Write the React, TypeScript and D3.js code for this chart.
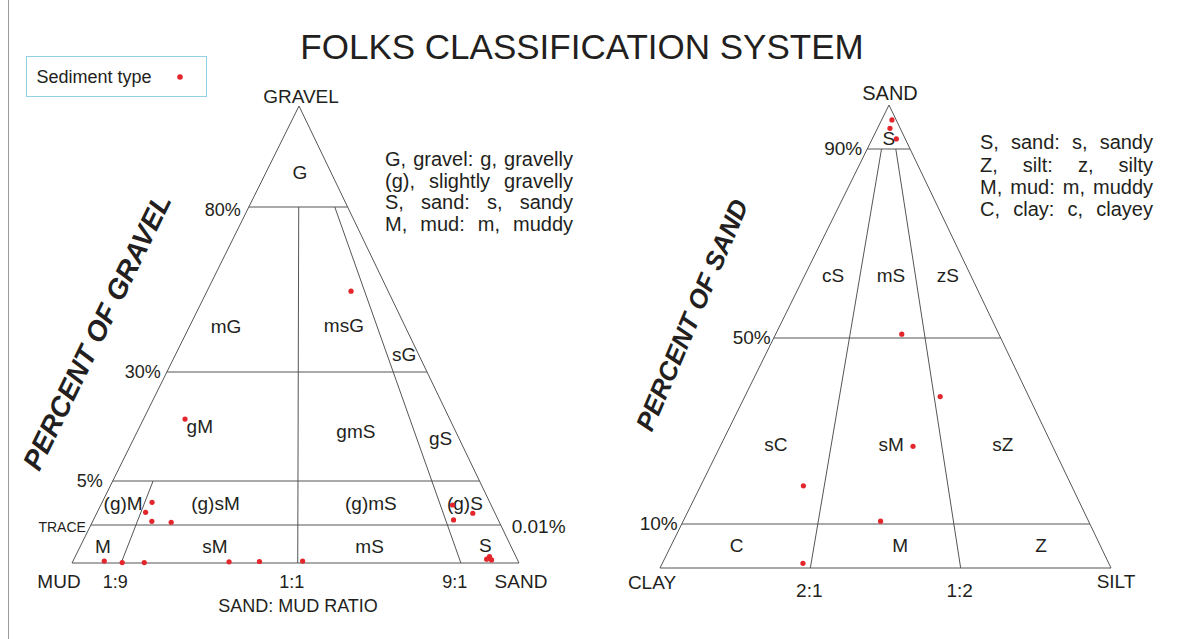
import React, { useEffect, useRef } from 'react';
import * as d3 from 'd3';

const W = 1179;
const H = 639;
const FONT = '"Liberation Sans", Arial, Helvetica, sans-serif';
const INK = '#231f20';
const LINE = '#555555';
const DOT = '#e3262b';

// ---- Gravel / sand / mud triangle (left) ----
const gravelLevels = [100, 80, 30, 5, 0.01, 0];
const gravelTicks = [80, 30, 5];
const gravelTickLabels = ['80%', '30%', '5%'];
const traceLevel = 0.01;
const sandMudRatios = [0.1, 0.5, 0.9];
const sandMudRatioLabels = ['1:9', '1:1', '9:1'];

const gsmClasses = ['G', 'mG', 'msG', 'sG', 'gM', 'gmS', 'gS', '(g)M', '(g)sM', '(g)mS', '(g)S', 'M', 'sM', 'mS', 'S'];
const gsmClassGravel = [86.9, 43.9, 44.3, 35.5, 17.6, 16.4, 14.9, 2.5, 2.5, 2.5, 2.5, 0.0046, 0.0046, 0.0046, 0.0047];
const gsmClassSand = [0.52, 0.16, 0.733, 0.955, 0.182, 0.699, 0.957, 0.05, 0.285, 0.706, 0.95, 0.047, 0.305, 0.683, 0.955];

// Samples: gravel % and sand share of the sand+mud fraction
const sampleGravel = [54.5, 19.2, 2.58, 1.45, 0.43, 0.32, 0.0005, 0.0001, 0.0001, 0.0003, 0.0004, 0.0005, 2.28, 0.58, 1.34, 0.001, 0.0017, 0.0008];
const sampleSandShare = [0.818, 0.126, 0.119, 0.112, 0.136, 0.185, 0.064, 0.102, 0.152, 0.344, 0.413, 0.512, 0.924, 0.915, 0.957, 0.947, 0.954, 0.955];

const gsmKey = ['G, gravel: g, gravelly', '(g), slightly gravelly', 'S, sand: s, sandy', 'M, mud: m, muddy'];

// ---- Sand / silt / clay triangle (right) ----
const sandLevels = [100, 90, 50, 10, 0];
const sandTicks = [90, 50, 10];
const sandTickLabels = ['90%', '50%', '10%'];
const siltClayRatios = [1 / 3, 2 / 3];
const siltClayRatioLabels = ['2:1', '1:2'];

const sscClasses = ['S', 'cS', 'mS', 'zS', 'sC', 'sM', 'sZ', 'C', 'M', 'Z'];
const sscClassSand = [92.5, 63.4, 63.4, 63.4, 27.1, 27.1, 27.1, 5.3, 5.3, 5.3];
const sscClassSilt = [0.5, 0.169, 0.52, 0.864, 0.166, 0.514, 0.852, 0.152, 0.534, 0.863];

// Samples: sand % and silt share of the silt+clay fraction
const sampleSand = [96.6, 94.7, 92.3, 50.8, 37.4, 26.7, 18.2, 10.6, 1.07];
const sampleSiltShare = [0.71, 0.55, 0.73, 0.565, 0.688, 0.58, 0.277, 0.487, 0.315];

const sscKey = ['S, sand: s, sandy', 'Z, silt: z, silty', 'M, mud: m, muddy', 'C, clay: c, clayey'];

export default function App() {
  const ref = useRef<SVGSVGElement>(null);

  useEffect(() => {
    const svg = d3.select(ref.current);
    svg.selectAll('*').remove();

    const root = svg.append('g').attr('font-family', FONT).attr('fill', INK);

    // page frame line
    root.append('line').attr('x1', 8.5).attr('x2', 8.5).attr('y1', 0).attr('y2', H)
      .attr('stroke', '#9a9a9a').attr('stroke-width', 1);

    // title
    root.append('text').attr('x', 582).attr('y', 59).attr('text-anchor', 'middle')
      .attr('font-size', 35).text('FOLKS CLASSIFICATION SYSTEM');

    // legend box
    const lg = root.append('g');
    lg.append('rect').attr('x', 26.5).attr('y', 56.5).attr('width', 180).attr('height', 40)
      .attr('fill', 'none').attr('stroke', '#92d0e6').attr('stroke-width', 1);
    lg.append('text').attr('x', 36.5).attr('y', 83).attr('font-size', 18).text('Sediment type');
    lg.append('circle').attr('cx', 180).attr('cy', 77).attr('r', 2.8).attr('fill', DOT);

    const seg = (g: any, a: number[], b: number[]) =>
      g.append('line').attr('x1', a[0]).attr('y1', a[1]).attr('x2', b[0]).attr('y2', b[1])
        .attr('stroke', LINE).attr('stroke-width', 1);

    // each key line is spread to fill the same width, word by word
    const justify = (g: any, lines: string[], x0: number, x1: number, baselines: number[], size: number) => {
      lines.forEach((line, i) => {
        const words = line.split(' ');
        const nodes = words.map((w) => g.append('text').attr('font-size', size).attr('y', baselines[i]).text(w));
        const widths = nodes.map((n: any) => (n.node() as SVGTextElement).getComputedTextLength());
        const total = d3.sum(widths);
        const gap = words.length > 1 ? (x1 - x0 - total) / (words.length - 1) : 0;
        let x = x0;
        nodes.forEach((n: any, k: number) => {
          n.attr('x', x);
          x += widths[k] + gap;
        });
      });
    };

    // ================= LEFT: gravel-sand-mud =================
    const gravelY = d3.scaleLinear().domain(gravelLevels).range([106, 207, 372, 481, 525, 563]);
    const sandPos = d3.scaleLinear().domain([0, 0.1, 0.5, 0.9, 1]).range([0, 0.11, 0.505, 0.87, 1]);
    const lEdgeL = d3.scaleLinear().domain([106, 563]).range([299, 72]);
    const lEdgeR = d3.scaleLinear().domain([106, 563]).range([299, 519]);
    const projL = (g: number, s: number) => {
      const y = gravelY(g);
      const xl = lEdgeL(y);
      const xr = lEdgeR(y);
      return [xl + sandPos(s) * (xr - xl), y];
    };

    const L = root.append('g');
    const lApex = projL(100, 0.5);
    const lMud = projL(0, 0);
    const lSand = projL(0, 1);
    L.append('path').attr('d', d3.line()([lApex, lMud, lSand] as any) + 'Z')
      .attr('fill', 'none').attr('stroke', LINE).attr('stroke-width', 1);

    [...gravelTicks, traceLevel].forEach((g) => seg(L, projL(g, 0), projL(g, 1)));
    seg(L, projL(5, 0.1), projL(0, 0.1));
    seg(L, projL(80, 0.5), projL(0, 0.5));
    seg(L, projL(80, 0.9), projL(0, 0.9));

    // gravel percent labels
    const gravelLabelOffset = [8, 6, 10];
    gravelTicks.forEach((g, i) => {
      const p = projL(g, 0);
      L.append('text').attr('x', p[0] - gravelLabelOffset[i]).attr('y', p[1] + (i === 0 ? 9 : 6))
        .attr('text-anchor', 'end').attr('font-size', 18).text(gravelTickLabels[i]);
    });
    const tr0 = projL(traceLevel, 0);
    L.append('text').attr('x', tr0[0] - 5).attr('y', tr0[1] + 7).attr('text-anchor', 'end')
      .attr('font-size', 14).text('TRACE');
    const tr1 = projL(traceLevel, 1);
    L.append('text').attr('x', tr1[0] + 11).attr('y', tr1[1] + 8).attr('font-size', 19).text('0.01%');

    // ratio labels along the base
    sandMudRatios.forEach((s, i) => {
      const p = projL(0, s);
      L.append('text').attr('x', p[0] - 6).attr('y', 588).attr('text-anchor', 'middle')
        .attr('font-size', 18).text(sandMudRatioLabels[i]);
    });
    L.append('text').attr('x', lMud[0] - 13).attr('y', 588).attr('text-anchor', 'middle').attr('font-size', 19).text('MUD');
    L.append('text').attr('x', lSand[0] + 2).attr('y', 588).attr('text-anchor', 'middle').attr('font-size', 19).text('SAND');
    L.append('text').attr('x', lApex[0] + 2).attr('y', lApex[1] - 3.5).attr('text-anchor', 'middle').attr('font-size', 19).text('GRAVEL');
    L.append('text').attr('x', 298).attr('y', 612).attr('text-anchor', 'middle').attr('font-size', 18).text('SAND: MUD RATIO');

    gsmClasses.forEach((c, i) => {
      const p = projL(gsmClassGravel[i], gsmClassSand[i]);
      L.append('text').attr('x', p[0]).attr('y', p[1] + 7).attr('text-anchor', 'middle')
        .attr('font-size', 19).text(c);
    });

    L.append('text').attr('transform', 'translate(97,332) rotate(-64)').attr('text-anchor', 'middle')
      .attr('dominant-baseline', 'central')
      .attr('font-size', 28).attr('font-weight', 'bold').attr('font-style', 'italic').text('PERCENT OF GRAVEL');

    justify(L, gsmKey, 385, 573, [166, 187.5, 209, 230.7], 20);

    sampleGravel.forEach((g, i) => {
      const p = projL(g, sampleSandShare[i]);
      L.append('circle').attr('cx', p[0]).attr('cy', p[1]).attr('r', 2.6).attr('fill', DOT);
    });

    // ================= RIGHT: sand-silt-clay =================
    const sandY = d3.scaleLinear().domain(sandLevels).range([105, 149, 338, 524, 568]);
    const rEdgeL = d3.scaleLinear().domain([105, 568]).range([889, 660]);
    const rEdgeR = d3.scaleLinear().domain([105, 568]).range([889, 1111]);
    const projR = (sand: number, silt: number) => {
      const y = sandY(sand);
      const xl = rEdgeL(y);
      const xr = rEdgeR(y);
      return [xl + silt * (xr - xl), y];
    };

    const R = root.append('g');
    const rApex = projR(100, 0.5);
    const rClay = projR(0, 0);
    const rSilt = projR(0, 1);
    R.append('path').attr('d', d3.line()([rApex, rClay, rSilt] as any) + 'Z')
      .attr('fill', 'none').attr('stroke', LINE).attr('stroke-width', 1);
    sandTicks.forEach((s) => seg(R, projR(s, 0), projR(s, 1)));
    siltClayRatios.forEach((r) => seg(R, projR(90, r), projR(0, r)));

    const sandLabelOffset = [5, 3, 4];
    sandTicks.forEach((s, i) => {
      const p = projR(s, 0);
      R.append('text').attr('x', p[0] - sandLabelOffset[i]).attr('y', p[1] + 6)
        .attr('text-anchor', 'end').attr('font-size', 19).text(sandTickLabels[i]);
    });
    siltClayRatios.forEach((r, i) => {
      const p = projR(0, r);
      R.append('text').attr('x', p[0] - 1).attr('y', 597).attr('text-anchor', 'middle')
        .attr('font-size', 19).text(siltClayRatioLabels[i]);
    });
    R.append('text').attr('x', rClay[0] - 8).attr('y', 589).attr('text-anchor', 'middle').attr('font-size', 19).text('CLAY');
    R.append('text').attr('x', rSilt[0] + 5).attr('y', 588).attr('text-anchor', 'middle').attr('font-size', 19).text('SILT');
    R.append('text').attr('x', rApex[0] + 1).attr('y', rApex[1] - 5).attr('text-anchor', 'middle').attr('font-size', 20).text('SAND');

    sscClasses.forEach((c, i) => {
      const p = projR(sscClassSand[i], sscClassSilt[i]);
      R.append('text').attr('x', p[0]).attr('y', p[1] + 7).attr('text-anchor', 'middle')
        .attr('font-size', 19).text(c);
    });

    R.append('text').attr('transform', 'translate(692,315) rotate(-67)').attr('text-anchor', 'middle')
      .attr('dominant-baseline', 'central')
      .attr('font-size', 26).attr('font-weight', 'bold').attr('font-style', 'italic').text('PERCENT OF SAND');

    justify(R, sscKey, 980, 1153, [149, 171.5, 194, 216], 20);

    sampleSand.forEach((s, i) => {
      const p = projR(s, sampleSiltShare[i]);
      R.append('circle').attr('cx', p[0]).attr('cy', p[1]).attr('r', 2.6).attr('fill', DOT);
    });
  }, []);

  return (
    <svg
      ref={ref}
      width={W}
      height={H}
      style={{ position: 'absolute', left: 0, top: 0, background: '#ffffff' }}
    />
  );
}
